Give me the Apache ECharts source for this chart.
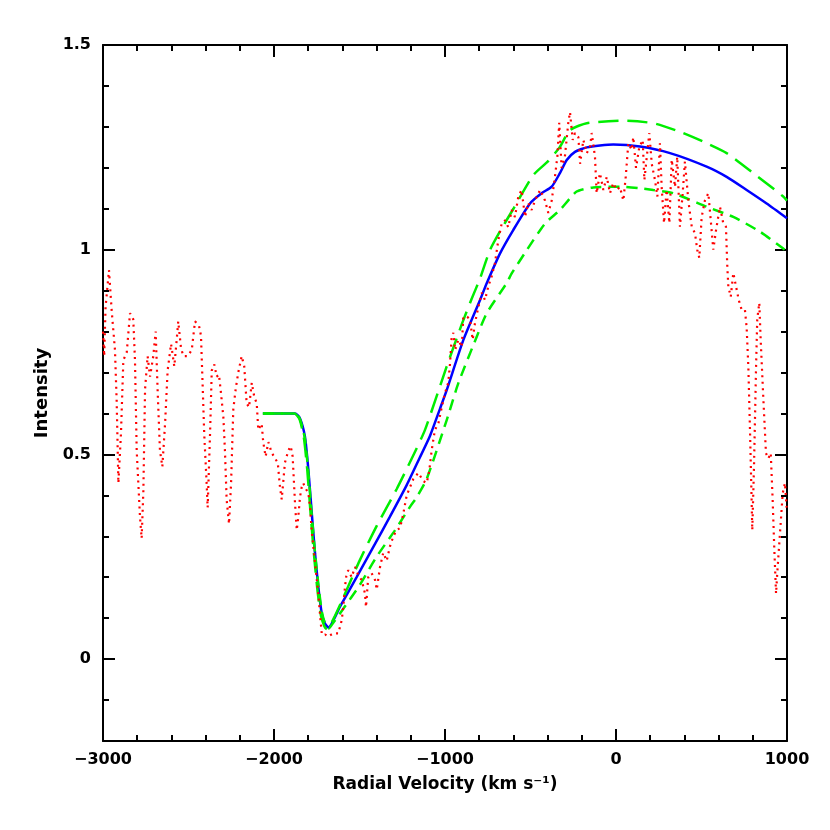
<!DOCTYPE html>
<html>
<head>
<meta charset="utf-8">
<script src="https://cdn.jsdelivr.net/npm/echarts@6/dist/echarts.min.js"></script>
<style>
  html, body { margin: 0; padding: 0; background: #fff; }
  #chart { width: 830px; height: 830px; }
</style>
</head>
<body>
<div id="chart"></div>
<script>
// observed spectrum (red dotted)
var obsVel = [-3000, -2993, -2985, -2965, -2949, -2930, -2920, -2910, -2895, -2881, -2861, -2842, -2823, -2813, -2803, -2784, -2774, -2764, -2754, -2739,
    -2725, -2706, -2692, -2680, -2667, -2653, -2637, -2622, -2602, -2583, -2569, -2560, -2544, -2530, -2505, -2481, -2462, -2439, -2427, -2419,
    -2408, -2394, -2388, -2374, -2364, -2349, -2335, -2322, -2310, -2296, -2287, -2277, -2263, -2251, -2238, -2224, -2209, -2189, -2174, -2160,
    -2146, -2130, -2115, -2101, -2092, -2072, -2063, -2049, -2033, -2014, -1994, -1978, -1965, -1955, -1936, -1916, -1902, -1891, -1877, -1867,
    -1858, -1848, -1838, -1829, -1819, -1799, -1789, -1779, -1770, -1760, -1741, -1731, -1721, -1713, -1700, -1682, -1665, -1653, -1624, -1604,
    -1595, -1585, -1575, -1565, -1546, -1526, -1507, -1487, -1468, -1462, -1449, -1429, -1409, -1399, -1380, -1361, -1341, -1322, -1302, -1283,
    -1263, -1244, -1224, -1185, -1156, -1127, -1107, -1092, -1078, -1059, -1039, -1019, -1000, -981, -971, -961, -951, -941, -922, -902,
    -893, -870, -854, -838, -825, -805, -785, -766, -747, -727, -708, -688, -668, -649, -630, -610, -591, -571, -552, -532,
    -513, -493, -474, -444, -415, -396, -376, -357, -343, -332, -318, -299, -279, -269, -253, -240, -220, -210, -191, -171,
    -152, -142, -123, -113, -94, -74, -54, -35, -16, 4, 23, 43, 57, 72, 92, 101, 117, 136, 156, 166,
    180, 195, 209, 228, 242, 257, 267, 281, 296, 312, 326, 345, 358, 374, 390, 403, 423, 443, 462, 475,
    487, 501, 520, 540, 554, 569, 585, 608, 627, 643, 651, 657, 671, 686, 702, 718, 735, 754, 764, 774,
    784, 793, 797, 807, 819, 826, 838, 846, 862, 877, 891, 905, 916, 926, 936, 943, 959, 975, 988, 998];
var obsInt = [0.80, 0.74, 0.86, 0.95, 0.85, 0.755, 0.63, 0.43, 0.55, 0.73, 0.75, 0.845, 0.83, 0.73, 0.51, 0.35, 0.295, 0.41, 0.66, 0.74,
    0.69, 0.74, 0.80, 0.65, 0.51, 0.47, 0.575, 0.705, 0.77, 0.715, 0.78, 0.825, 0.76, 0.74, 0.74, 0.755, 0.825, 0.815, 0.79, 0.69,
    0.55, 0.43, 0.37, 0.55, 0.705, 0.72, 0.69, 0.695, 0.65, 0.59, 0.51, 0.39, 0.33, 0.43, 0.61, 0.66, 0.70, 0.74, 0.715, 0.625,
    0.615, 0.675, 0.64, 0.625, 0.56, 0.575, 0.53, 0.495, 0.53, 0.505, 0.49, 0.48, 0.42, 0.39, 0.48, 0.51, 0.52, 0.495, 0.38, 0.315,
    0.347, 0.396, 0.42, 0.43, 0.42, 0.405, 0.37, 0.31, 0.275, 0.235, 0.16, 0.11, 0.063, 0.058, 0.06, 0.055, 0.06, 0.063, 0.063, 0.095,
    0.127, 0.176, 0.21, 0.217, 0.2, 0.225, 0.205, 0.193, 0.16, 0.127, 0.2, 0.21, 0.193, 0.17, 0.225, 0.26, 0.24, 0.275, 0.30, 0.315,
    0.32, 0.355, 0.40, 0.44, 0.455, 0.435, 0.43, 0.46, 0.51, 0.56, 0.575, 0.615, 0.65, 0.675, 0.72, 0.787, 0.797, 0.755, 0.78, 0.762,
    0.836, 0.836, 0.83, 0.78, 0.82, 0.86, 0.895, 0.877, 0.91, 0.935, 0.967, 1.024, 1.065, 1.072, 1.055, 1.097, 1.08, 1.13, 1.146, 1.08,
    1.114, 1.097, 1.12, 1.146, 1.12, 1.09, 1.12, 1.178, 1.227, 1.31, 1.2, 1.227, 1.31, 1.336, 1.268, 1.285, 1.275, 1.21, 1.268, 1.236,
    1.25, 1.285, 1.227, 1.138, 1.187, 1.146, 1.178, 1.138, 1.163, 1.146, 1.153, 1.12, 1.178, 1.26, 1.244, 1.275, 1.2, 1.25, 1.268, 1.17,
    1.227, 1.285, 1.21, 1.17, 1.13, 1.26, 1.153, 1.065, 1.146, 1.065, 1.22, 1.153, 1.227, 1.056, 1.138, 1.215, 1.12, 1.056, 1.04, 1.0,
    0.98, 1.08, 1.12, 1.138, 1.072, 1.0, 1.048, 1.105, 1.065, 1.056, 0.958, 0.91, 0.885, 0.943, 0.91, 0.877, 0.853, 0.853, 0.81, 0.713,
    0.552, 0.39, 0.315, 0.47, 0.713, 0.83, 0.87, 0.78, 0.633, 0.503, 0.49, 0.503, 0.39, 0.266, 0.16, 0.21, 0.308, 0.405, 0.43, 0.37];

// model profile (blue solid)
var modelVel = [-2065, -1877, -1848, -1819, -1799, -1779, -1760, -1741, -1721, -1702, -1682, -1614, -1516, -1419, -1322, -1224, -1150, -1088, -1029, -990,
    -893, -795, -756, -678, -601, -503, -435, -376, -328, -288, -240, -171, -16, 140, 316, 530, 647, 764, 881, 1000];
var modelInt = [0.60, 0.60, 0.588, 0.543, 0.462, 0.356, 0.258, 0.177, 0.112, 0.087, 0.077, 0.128, 0.201, 0.274, 0.348, 0.425, 0.49, 0.545, 0.612, 0.657,
    0.779, 0.877, 0.918, 0.991, 1.048, 1.113, 1.138, 1.154, 1.187, 1.219, 1.239, 1.25, 1.257, 1.252, 1.236, 1.203, 1.178, 1.146, 1.113, 1.077];

// upper model (green long dash)
var upperVel = [-2065, -1880, -1850, -1825, -1805, -1785, -1765, -1745, -1725, -1705, -1690, -1650, -1595, -1500, -1400, -1283, -1200, -1117, -990, -900,
    -844, -795, -737, -678, -600, -484, -400, -330, -269, -171, 43, 218, 374, 510, 647, 803, 978, 1000];
var upperInt = [0.60, 0.60, 0.585, 0.54, 0.46, 0.35, 0.25, 0.165, 0.105, 0.08, 0.073, 0.10, 0.15, 0.24, 0.325, 0.415, 0.485, 0.56, 0.715, 0.82,
    0.88, 0.93, 0.999, 1.045, 1.10, 1.182, 1.215, 1.25, 1.292, 1.309, 1.315, 1.309, 1.288, 1.264, 1.236, 1.187, 1.13, 1.12];

// lower model (green short dash)
var lowerVel = [-2065, -1880, -1850, -1820, -1800, -1780, -1760, -1740, -1720, -1700, -1680, -1660, -1600, -1500, -1400, -1292, -1200, -1166, -1107, -990,
    -922, -815, -756, -640, -610, -522, -415, -328, -230, -133, 23, 140, 218, 335, 530, 686, 842, 978, 1000];
var lowerInt = [0.60, 0.60, 0.588, 0.54, 0.46, 0.355, 0.26, 0.18, 0.115, 0.085, 0.075, 0.085, 0.12, 0.18, 0.25, 0.315, 0.375, 0.395, 0.44, 0.584,
    0.674, 0.787, 0.845, 0.918, 0.942, 0.999, 1.064, 1.097, 1.142, 1.152, 1.154, 1.15, 1.146, 1.138, 1.105, 1.08, 1.044, 1.003, 0.995];

var yTicks = [0, 0.5, 1, 1.5];

function pairs(xs, ys) {
    return xs.map(function (x, i) { return [x, ys[i]]; });
}

var font = 'DejaVu Sans';
var lineStyle = {color: '#000', width: 2};

var myChart = echarts.init(document.getElementById('chart'));
var option = {
    animation: false,
    backgroundColor: '#fff',
    grid: {left: 103, right: 43, top: 45, bottom: 89},
    xAxis: [
        {
            type: 'value', position: 'bottom', min: -3000, max: 1000, interval: 1000,
            name: 'Radial Velocity (km s\u207B\u00B9)', nameLocation: 'middle', nameGap: 35,
            nameTextStyle: {fontFamily: font, fontSize: 17, fontWeight: 'bold', color: '#000'},
            axisLine: {show: true, onZero: false, lineStyle: lineStyle},
            axisTick: {show: true, inside: true, length: 12, lineStyle: lineStyle},
            minorTick: {show: true, splitNumber: 5, length: 6, lineStyle: lineStyle},
            axisLabel: {
                margin: 11, fontFamily: font, fontSize: 16, fontWeight: 'bold', color: '#000',
                formatter: function (v) { return String(v).replace('-', '\u2212'); }
            },
            splitLine: {show: false}
        },
        {
            type: 'value', position: 'top', min: -3000, max: 1000, interval: 1000,
            axisLine: {show: true, onZero: false, lineStyle: lineStyle},
            axisTick: {show: true, inside: true, length: 12, lineStyle: lineStyle},
            minorTick: {show: true, splitNumber: 5, length: 6, lineStyle: lineStyle},
            axisLabel: {show: false},
            splitLine: {show: false}
        }
    ],
    yAxis: [
        {
            type: 'value', position: 'left', min: -0.2, max: 1.5,
            name: 'Intensity', nameLocation: 'middle', nameGap: 50,
            nameTextStyle: {fontFamily: font, fontSize: 18, fontWeight: 'bold', color: '#000'},
            axisLine: {show: true, onZero: false, lineStyle: lineStyle},
            axisTick: {show: true, inside: true, length: 12, customValues: yTicks, lineStyle: lineStyle},
            axisLabel: {margin: 12, fontFamily: font, fontSize: 16, fontWeight: 'bold', color: '#000', customValues: yTicks},
            splitLine: {show: false}
        },
        {
            type: 'value', position: 'left', min: -0.2, max: 1.5, interval: 0.1,
            axisLine: {show: false, onZero: false},
            axisTick: {show: true, inside: true, length: 6, lineStyle: lineStyle},
            axisLabel: {show: false},
            splitLine: {show: false}
        },
        {
            type: 'value', position: 'right', min: -0.2, max: 1.5,
            axisLine: {show: true, onZero: false, lineStyle: lineStyle},
            axisTick: {show: true, inside: true, length: 12, customValues: yTicks, lineStyle: lineStyle},
            axisLabel: {show: false, customValues: yTicks},
            splitLine: {show: false}
        },
        {
            type: 'value', position: 'right', min: -0.2, max: 1.5, interval: 0.1,
            axisLine: {show: false, onZero: false},
            axisTick: {show: true, inside: true, length: 6, lineStyle: lineStyle},
            axisLabel: {show: false},
            splitLine: {show: false}
        }
    ],
    series: [
        {
            name: 'model', type: 'line', data: pairs(modelVel, modelInt),
            showSymbol: false, smooth: 0.2,
            lineStyle: {color: '#0000ff', width: 2.5}
        },
        {
            name: 'upper', type: 'line', data: pairs(upperVel, upperInt),
            showSymbol: false, smooth: 0.2,
            lineStyle: {color: '#00ee00', width: 2.5, type: [20, 9]}
        },
        {
            name: 'lower', type: 'line', data: pairs(lowerVel, lowerInt),
            showSymbol: false, smooth: 0.2,
            lineStyle: {color: '#00ee00', width: 2.5, type: [11, 7]}
        },
        {
            name: 'observed', type: 'line', data: pairs(obsVel, obsInt),
            showSymbol: false,
            lineStyle: {color: '#ff0000', width: 2.2, type: [2, 4.5]}
        }
    ]
};
myChart.setOption(option);
</script>
</body>
</html>
